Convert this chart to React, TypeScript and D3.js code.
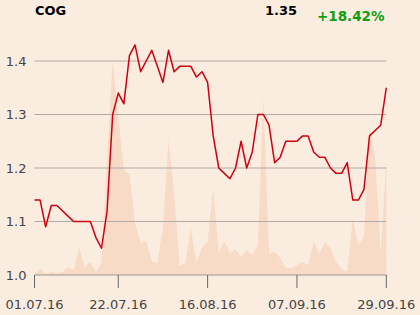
import React from "react";
import * as d3 from "d3";

const dates: string[] = [
  "01.07.16","04.07.16","05.07.16","06.07.16","07.07.16","08.07.16",
  "11.07.16","12.07.16","13.07.16","14.07.16","15.07.16",
  "18.07.16","19.07.16","20.07.16","21.07.16","22.07.16",
  "25.07.16","26.07.16","27.07.16","28.07.16","29.07.16",
  "01.08.16","02.08.16","03.08.16","04.08.16","05.08.16",
  "08.08.16","09.08.16","10.08.16","11.08.16","12.08.16",
  "16.08.16","17.08.16","18.08.16","19.08.16",
  "22.08.16","23.08.16","24.08.16","25.08.16","26.08.16",
  "29.08.16","30.08.16","31.08.16","01.09.16","02.09.16",
  "05.09.16","06.09.16","07.09.16","08.09.16","09.09.16",
  "12.09.16","13.09.16","14.09.16","15.09.16","16.09.16",
  "19.09.16","20.09.16","21.09.16","22.09.16","23.09.16",
  "26.09.16","27.09.16","28.09.16","29.09.16",
];

const prices: number[] = [
  1.14, 1.14, 1.09, 1.13, 1.13, 1.12,
  1.11, 1.10, 1.10, 1.10, 1.10,
  1.07, 1.05, 1.12, 1.30, 1.34,
  1.32, 1.41, 1.43, 1.38, 1.40,
  1.42, 1.39, 1.36, 1.42, 1.38,
  1.39, 1.39, 1.39, 1.37, 1.38,
  1.36, 1.26, 1.20, 1.19,
  1.18, 1.20, 1.25, 1.20, 1.23,
  1.30, 1.30, 1.28, 1.21, 1.22,
  1.25, 1.25, 1.25, 1.26, 1.26,
  1.23, 1.22, 1.22, 1.20, 1.19,
  1.19, 1.21, 1.14, 1.14, 1.16,
  1.26, 1.27, 1.28, 1.35,
];

const volumes: number[] = [
  10, 60, 10, 30, 20, 30,
  80, 50, 280, 80, 130,
  30, 120, 1150, 2150, 1570,
  1050, 1010, 520, 320, 340,
  140, 120, 480, 1350, 830,
  90, 120, 470, 120, 280,
  330, 870, 220, 340,
  220, 260, 180, 250, 200,
  300, 1770, 220, 230, 170,
  70, 70, 100, 130, 100,
  340, 210, 330, 270, 130,
  60, 30, 570, 300, 380,
  1510, 1170, 230, 1140,
];

const yTicks: number[] = [1.0, 1.1, 1.2, 1.3, 1.4];
const xTickLabels: string[] = ["01.07.16", "22.07.16", "16.08.16", "07.09.16", "29.09.16"];

const title = "COG";
const lastPrice = "1.35";
const change = "+18.42%";

const W = 420;
const H = 315;
const FONT = "'DejaVu Sans', sans-serif";

export default function App() {
  const x = d3.scalePoint<string>().domain(dates).range([34.5, 386.3]).padding(0);
  const y = d3.scaleLinear().domain([1.0, 1.4]).range([275, 61]);
  const yv = d3.scaleLinear().domain([0, d3.max(volumes) as number]).range([275, 60]);

  const area = d3
    .area<number>()
    .x((_, i) => x(dates[i]) as number)
    .y0(275)
    .y1((d) => yv(d));
  const line = d3
    .line<number>()
    .x((_, i) => x(dates[i]) as number)
    .y((d) => y(d));

  return (
    <svg
      width={W}
      height={H}
      style={{ position: "absolute", left: 0, top: 0, display: "block" }}
      fontFamily={FONT}
    >
      <rect x={0} y={0} width={W} height={H} fill="#fbece0" />
      <path d={area(volumes) || ""} fill="#f8dbc6" />
      {yTicks.slice(1).map((t) => (
        <line key={t} x1={34.5} x2={386.3} y1={y(t)} y2={y(t)} stroke="#b0aaa6" strokeWidth={1} />
      ))}
      <line x1={34.5} x2={386.3} y1={y(1.0)} y2={y(1.0)} stroke="#9a9694" strokeWidth={1} />
      {yTicks.map((t) => (
        <text key={t} x={26.5} y={y(t)} dy="0.35em" textAnchor="end" fontSize={13} fill="#444">
          {t.toFixed(1)}
        </text>
      ))}
      {xTickLabels.map((lbl) => {
        const xx = x(lbl) as number;
        return (
          <g key={lbl}>
            <line x1={xx} x2={xx} y1={275} y2={288} stroke="#666" strokeWidth={1} />
            <text x={xx} y={309} textAnchor="middle" fontSize={13} fill="#444">
              {lbl}
            </text>
          </g>
        );
      })}
      <path d={line(prices) || ""} fill="none" stroke="#d0000f" strokeWidth={1.5} strokeLinejoin="round" />
      <text x={35} y={15} fontSize={13} fontWeight="bold" fill="#000">{title}</text>
      <text x={297} y={15} fontSize={13} fontWeight="bold" fill="#000" textAnchor="end">{lastPrice}</text>
      <text x={384.5} y={21} fontSize={13.5} fontWeight="bold" fill="#109e10" textAnchor="end">{change}</text>
    </svg>
  );
}
